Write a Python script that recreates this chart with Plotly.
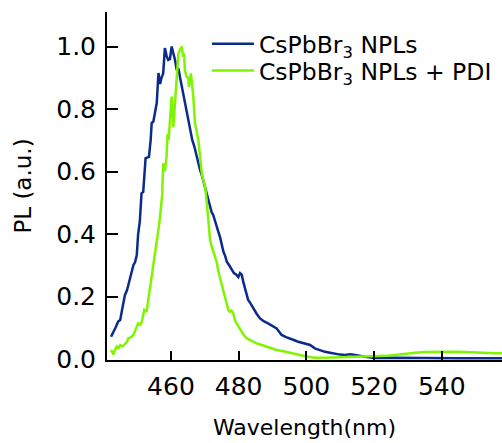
import plotly.graph_objects as go

# Blue: CsPbBr3 NPLs
wl_npl = [442.3, 443.0, 443.6, 444.4, 445.0, 445.6, 446.4, 447.0, 447.4, 448.0,
          448.9, 449.4, 449.9, 450.3, 450.8, 451.3, 451.8, 452.5, 453.0, 453.5,
          454.0, 454.3, 454.8, 455.3, 455.8, 456.3, 456.8, 457.2, 457.7, 458.2,
          458.7, 459.2, 459.7, 460.2, 460.7, 461.2, 461.7, 462.2, 462.7, 463.4,
          464.1, 464.8, 465.6, 466.3, 466.9, 467.6, 468.1, 468.6, 469.2, 469.8,
          470.6, 471.3, 472.0, 472.5, 473.0, 473.5, 474.0, 474.5, 475.0, 475.5,
          476.0, 476.5, 477.2, 477.9, 478.6, 479.4, 479.9, 480.4, 480.9, 481.4,
          481.9, 482.4, 482.8, 483.5, 484.3, 485.3, 486.3, 487.5, 488.7, 489.9,
          491.2, 491.9, 492.7, 494.0, 495.2, 496.5, 497.6, 498.5, 499.6, 500.3,
          501.1, 502.5, 504.0, 505.5, 507.0, 508.5, 510.0, 511.4, 513.0, 514.4,
          516.0, 517.3, 519.0, 520.3, 525.0, 530.0, 535.0, 540.0, 545.0, 550.0,
          555.0, 557.8]
pl_npl = [0.071, 0.085, 0.100, 0.120, 0.125, 0.160, 0.205, 0.220, 0.237, 0.260,
          0.300, 0.310, 0.333, 0.400, 0.440, 0.530, 0.535, 0.643, 0.645, 0.647,
          0.700, 0.755, 0.760, 0.797, 0.820, 0.915, 0.880, 0.900, 0.914, 0.995,
          0.970, 0.957, 0.960, 1.000, 0.980, 0.957, 0.925, 0.930, 0.900, 0.860,
          0.820, 0.790, 0.740, 0.700, 0.680, 0.646, 0.620, 0.605, 0.585, 0.560,
          0.530, 0.500, 0.470, 0.460, 0.440, 0.425, 0.407, 0.390, 0.360, 0.343,
          0.330, 0.311, 0.300, 0.285, 0.275, 0.269, 0.262, 0.275, 0.270, 0.245,
          0.226, 0.205, 0.189, 0.178, 0.162, 0.145, 0.130, 0.120, 0.114, 0.105,
          0.098, 0.088, 0.077, 0.070, 0.066, 0.060, 0.055, 0.052, 0.050, 0.046,
          0.045, 0.034, 0.028, 0.023, 0.020, 0.016, 0.014, 0.013, 0.015, 0.013,
          0.009, 0.007, 0.005, 0.003, 0.004, 0.003, 0.003, 0.003, 0.002, 0.002,
          0.002, 0.002]

# Green: CsPbBr3 NPLs + PDI
wl_pdi = [442.3, 443.0, 443.5, 444.0, 444.5, 445.0, 445.7, 446.4, 447.0, 447.4,
          448.2, 448.9, 449.6, 450.3, 450.9, 451.4, 452.1, 452.8, 453.3, 453.8,
          454.3, 454.8, 455.3, 455.7, 456.1, 456.5, 456.8, 457.1, 457.4, 457.7,
          458.2, 458.7, 459.0, 459.3, 459.7, 460.2, 460.7, 461.2, 461.7, 462.2,
          462.7, 463.2, 463.6, 463.9, 464.1, 464.6, 465.1, 465.3, 465.9, 466.3,
          466.6, 467.1, 467.6, 468.1, 468.6, 469.1, 469.6, 470.1, 470.6, 471.0,
          471.5, 472.0, 472.5, 473.0, 473.5, 474.0, 474.5, 475.0, 475.5, 476.0,
          476.5, 477.0, 477.4, 477.9, 478.4, 478.9, 479.4, 480.1, 480.9, 481.6,
          482.4, 483.8, 485.3, 486.8, 488.3, 489.8, 491.2, 493.2, 495.2, 496.6,
          498.1, 500.0, 502.5, 505.5, 508.5, 511.5, 514.4, 517.3, 520.3, 523.2,
          526.2, 529.2, 532.1, 535.0, 538.0, 541.0, 543.9, 546.9, 549.8, 552.8,
          555.7, 557.8]
pl_pdi = [0.029, 0.015, 0.030, 0.040, 0.035, 0.045, 0.040, 0.050, 0.055, 0.066,
          0.070, 0.077, 0.095, 0.114, 0.110, 0.120, 0.157, 0.151, 0.190, 0.226,
          0.269, 0.300, 0.343, 0.360, 0.397, 0.430, 0.460, 0.490, 0.525, 0.626,
          0.600, 0.647, 0.720, 0.700, 0.775, 0.840, 0.743, 0.830, 0.893, 0.978,
          0.990, 1.000, 0.967, 0.978, 0.925, 0.903, 0.900, 0.871, 0.914, 0.870,
          0.840, 0.754, 0.730, 0.700, 0.647, 0.594, 0.570, 0.551, 0.500, 0.440,
          0.386, 0.360, 0.343, 0.330, 0.311, 0.280, 0.258, 0.235, 0.215, 0.190,
          0.173, 0.155, 0.151, 0.155, 0.146, 0.125, 0.114, 0.100, 0.087, 0.075,
          0.066, 0.058, 0.050, 0.045, 0.039, 0.034, 0.029, 0.025, 0.021, 0.016,
          0.013, 0.008, 0.004, 0.004, 0.005, 0.005, 0.005, 0.006, 0.007, 0.010,
          0.013, 0.017, 0.020, 0.022, 0.023, 0.024, 0.023, 0.022, 0.020, 0.019,
          0.018, 0.018]

names = ["CsPbBr<sub>3</sub> NPLs", "CsPbBr<sub>3</sub> NPLs + PDI"]
colors = ["#0a2a8c", "#7ff500"]
x_ticks = [460, 480, 500, 520, 540]
y_ticks = [0.0, 0.2, 0.4, 0.6, 0.8, 1.0]

FONT = "DejaVu Sans, sans-serif"

fig = go.Figure()
fig.add_trace(go.Scatter(x=wl_npl, y=pl_npl, mode="lines", name=names[0],
                         legend="legend",
                         line=dict(color=colors[0], width=2.5)))
fig.add_trace(go.Scatter(x=wl_pdi, y=pl_pdi, mode="lines", name=names[1],
                         legend="legend2",
                         line=dict(color=colors[1], width=2.5)))

leg_common = dict(xanchor="left", yanchor="middle",
                  font=dict(size=23.5, family=FONT, color="black"),
                  bgcolor="rgba(0,0,0,0)", itemwidth=42)

fig.update_layout(
    width=502, height=443,
    margin=dict(l=107, r=0, t=12, b=83),
    paper_bgcolor="white", plot_bgcolor="white",
    font=dict(family=FONT, color="black"),
    showlegend=True,
    legend=dict(x=0.253, y=0.908, **leg_common),
    legend2=dict(x=0.253, y=0.831, **leg_common),
    xaxis=dict(range=[441.1, 557.8], tickvals=x_ticks, ticks="inside",
               ticklen=9, tickwidth=2, tickcolor="black",
               showline=True, linecolor="black", linewidth=2,
               showgrid=False, zeroline=False,
               tickfont=dict(size=25, family=FONT),
               ticklabelstandoff=3,
               title=dict(text="Wavelength(nm)", font=dict(size=22, family=FONT),
                          standoff=20)),
    yaxis=dict(range=[-0.0032, 1.1104], tickvals=y_ticks, tickformat=".1f",
               ticks="inside", ticklen=11, tickwidth=2, tickcolor="black",
               showline=True, linecolor="black", linewidth=2,
               showgrid=False, zeroline=True, zerolinecolor="#888888",
               zerolinewidth=2,
               tickfont=dict(size=25, family=FONT),
               ticklabelstandoff=4,
               title=dict(text="PL (a.u.)", font=dict(size=23, family=FONT),
                          standoff=18)),
)

fig.write_html("out.html")
